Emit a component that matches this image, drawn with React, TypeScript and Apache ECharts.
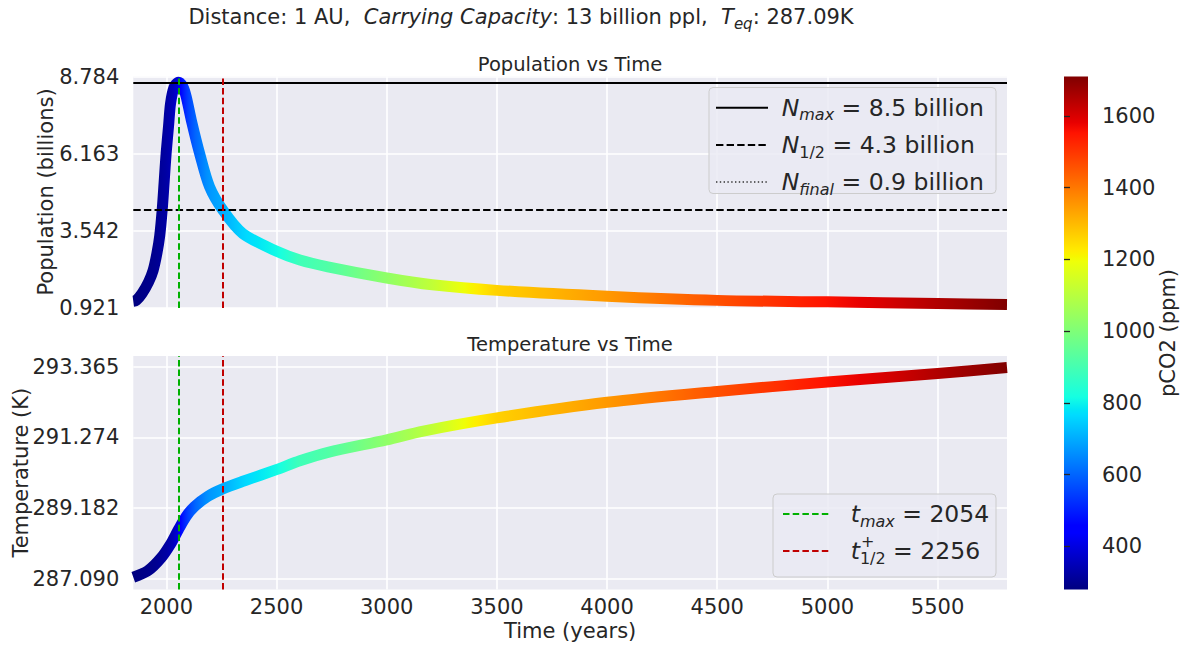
import React, { useEffect, useRef } from "react";
import * as echarts from "echarts";

// ---------- data ----------
const popYears = [1850, 1863, 1890, 1919, 1940, 1957, 1970, 1981, 1990, 1999, 2010, 2019, 2035, 2055, 2075, 2090, 2113, 2151, 2196, 2257, 2347, 2506, 2606, 2733, 3000, 3207, 3500, 4000, 4500, 5000, 5500, 5815];
const popValues = [1.15, 1.18, 1.42, 1.8, 2.2, 2.77, 3.38, 4.24, 5.2, 6.17, 7.1, 7.87, 8.42, 8.59, 8.44, 8.1, 7.31, 6.17, 5.04, 4.24, 3.45, 2.83, 2.55, 2.32, 1.94, 1.71, 1.52, 1.32, 1.18, 1.13, 1.07, 1.04];

const tempYears = [1850, 1916, 1976, 2022, 2055, 2090, 2128, 2188, 2256, 2355, 2499, 2606, 2734, 3000, 3166, 3500, 4000, 4500, 5000, 5500, 5815];
const tempValues = [287.14, 287.33, 287.71, 288.15, 288.55, 288.94, 289.23, 289.53, 289.75, 289.99, 290.32, 290.58, 290.83, 291.2, 291.46, 291.85, 292.31, 292.63, 292.91, 293.16, 293.34];

const co2Years = [1850, 1950, 2000, 2030, 2055, 2070, 2090, 2128, 2188, 2256, 2355, 2500, 2606, 2733, 3000, 3207, 3350, 3500, 4000, 4500, 5000, 5200, 5500, 5815];
const co2Values = [280, 300, 325, 350, 400, 470, 530, 595, 666, 700, 760, 810, 890, 920, 1030, 1115, 1195, 1265, 1350, 1460, 1555, 1590, 1650, 1710];

const popTicks = [0.921, 3.542, 6.163, 8.784];
const tempTicks = [287.09, 289.182, 291.274, 293.365];
const timeTicks = [2000, 2500, 3000, 3500, 4000, 4500, 5000, 5500];
const co2Ticks = [400, 600, 800, 1000, 1200, 1400, 1600];

const nMax = 8.57;
const nHalf = 4.27;
const nFinal = 0.921;
const tMaxYear = 2054;
const tHalfYear = 2256;

const timeMin = 1850;
const timeMax = 5815;
const co2Min = 280;
const co2Max = 1710;

// ---------- styling ----------
const FONT = "'DejaVu Sans', 'Noto Sans', sans-serif";
const TXT = "#262626";
const BG = "#EAEAF2";
const GREEN = "#00b000";
const RED = "#c00000";
const TICK_FS = 21;
const LABEL_FS = 21;

const G_LEFT = 133.3;
const G_WIDTH = 873.7;

// jet colormap
const JR = [[0, 0], [0.35, 0], [0.66, 1], [0.89, 1], [1, 0.5]];
const JG = [[0, 0], [0.125, 0], [0.375, 1], [0.64, 1], [0.91, 0], [1, 0]];
const JB = [[0, 0.5], [0.11, 1], [0.34, 1], [0.65, 0], [1, 0]];
function seg(k: number[][], s: number) {
  if (s <= k[0][0]) return k[0][1];
  for (let i = 1; i < k.length; i++) {
    if (s <= k[i][0]) {
      const f = (s - k[i - 1][0]) / (k[i][0] - k[i - 1][0]);
      return k[i - 1][1] + f * (k[i][1] - k[i - 1][1]);
    }
  }
  return k[k.length - 1][1];
}
function jet(s: number) {
  const c = (v: number) => Math.round(Math.max(0, Math.min(1, v)) * 255);
  return `rgb(${c(seg(JR, s))},${c(seg(JG, s))},${c(seg(JB, s))})`;
}
function co2At(t: number) {
  if (t <= co2Years[0]) return co2Values[0];
  for (let i = 1; i < co2Years.length; i++) {
    if (t <= co2Years[i]) {
      const f = (t - co2Years[i - 1]) / (co2Years[i] - co2Years[i - 1]);
      return co2Values[i - 1] + f * (co2Values[i] - co2Values[i - 1]);
    }
  }
  return co2Values[co2Values.length - 1];
}
function timeGradient() {
  const stops: { offset: number; color: string }[] = [];
  const n = 240;
  for (let i = 0; i <= n; i++) {
    const t = timeMin + ((timeMax - timeMin) * i) / n;
    const s = (co2At(t) - co2Min) / (co2Max - co2Min);
    stops.push({ offset: i / n, color: jet(s) });
  }
  return new echarts.graphic.LinearGradient(G_LEFT, 0, G_LEFT + G_WIDTH, 0, stops, true);
}
function barGradient() {
  const knots = [0, 0.11, 0.125, 0.34, 0.35, 0.375, 0.64, 0.65, 0.66, 0.89, 0.91, 1];
  return new echarts.graphic.LinearGradient(0, 1, 0, 0, knots.map((k) => ({ offset: k, color: jet(k) })));
}

const richBase = (size: number, lh: number) => ({
  n: { fontFamily: FONT, fontSize: size, lineHeight: lh, color: TXT },
  i: { fontFamily: FONT, fontSize: size, lineHeight: lh, color: TXT, fontStyle: "italic" },
  s: { fontFamily: FONT, fontSize: Math.round(size * 0.7), lineHeight: Math.round(size * 0.62), color: TXT, fontStyle: "italic", verticalAlign: "bottom" },
  sn: { fontFamily: FONT, fontSize: Math.round(size * 0.7), lineHeight: Math.round(size * 0.62), color: TXT, verticalAlign: "bottom" },
});

function richText(x: number, y: number, text: string, size: number, lh: number, align = "left") {
  return {
    type: "text",
    x,
    y,
    silent: true,
    style: {
      text,
      rich: richBase(size, lh),
      fontFamily: FONT,
      fontSize: size,
      fill: TXT,
      align,
      verticalAlign: "middle",
    },
  };
}
function plainText(x: number, y: number, text: string, size: number, align = "center", rotation = 0) {
  return {
    type: "text",
    x,
    y,
    rotation,
    silent: true,
    style: { text, fontFamily: FONT, fontSize: size, fill: TXT, align, verticalAlign: "middle" },
  };
}

function valueAxisCommon() {
  return {
    type: "value",
    axisLine: { show: false },
    splitLine: { show: true, lineStyle: { color: "#ffffff", width: 1.6 } },
    axisLabel: { color: TXT, fontFamily: FONT, fontSize: TICK_FS },
  };
}

export default function App() {
  const ref = useRef<HTMLDivElement>(null);
  useEffect(() => {
    if (!ref.current) return;
    const chart = echarts.init(ref.current, null, { renderer: "svg" });
    const grad = timeGradient();

    const vLines = [
      { xAxis: tMaxYear, lineStyle: { color: GREEN, width: 2, type: [6.5, 3.2] } },
      { xAxis: tHalfYear, lineStyle: { color: RED, width: 2, type: [6.5, 3.2] } },
    ];

    const gridCommon = { containLabel: false, outerBoundsMode: "none" };

    const option: any = {
      animation: false,
      backgroundColor: "#ffffff",
      textStyle: { fontFamily: FONT },
      grid: [
        { ...gridCommon, left: G_LEFT, top: 76.5, width: G_WIDTH, height: 231.5, show: true, backgroundColor: BG, borderWidth: 0 },
        { ...gridCommon, left: G_LEFT, top: 356, width: G_WIDTH, height: 233.5, show: true, backgroundColor: BG, borderWidth: 0 },
        { ...gridCommon, left: 1064, top: 76.5, width: 24, height: 513, show: false },
      ],
      xAxis: [
        {
          ...valueAxisCommon(),
          gridIndex: 0,
          min: timeMin,
          max: timeMax,
          axisTick: { show: false, customValues: timeTicks },
          axisLabel: { show: false, customValues: timeTicks },
        },
        {
          ...valueAxisCommon(),
          gridIndex: 1,
          min: timeMin,
          max: timeMax,
          axisTick: { show: false, customValues: timeTicks },
          axisLabel: { show: true, customValues: timeTicks, color: TXT, fontFamily: FONT, fontSize: TICK_FS, margin: 7, formatter: (v: number) => String(v) },
          name: "Time (years)",
          nameLocation: "middle",
          nameGap: 31,
          nameTextStyle: { color: TXT, fontFamily: FONT, fontSize: LABEL_FS },
        },
        { type: "value", gridIndex: 2, show: false, min: 0, max: 1 },
      ],
      yAxis: [
        {
          ...valueAxisCommon(),
          gridIndex: 0,
          min: 0.921,
          max: 8.784,
          axisTick: { show: false, customValues: popTicks },
          axisLabel: { customValues: popTicks, color: TXT, fontFamily: FONT, fontSize: TICK_FS, margin: 14, formatter: (v: number) => v.toFixed(3) },
        },
        {
          ...valueAxisCommon(),
          gridIndex: 1,
          min: 286.776,
          max: 293.679,
          axisTick: { show: false, customValues: tempTicks },
          axisLabel: { customValues: tempTicks, color: TXT, fontFamily: FONT, fontSize: TICK_FS, margin: 14, formatter: (v: number) => v.toFixed(3) },
        },
        {
          type: "value",
          gridIndex: 2,
          position: "right",
          min: co2Min,
          max: co2Max,
          axisLine: { show: false },
          splitLine: { show: false },
          axisTick: { show: true, inside: false, length: 6, customValues: co2Ticks, lineStyle: { color: TXT, width: 1.3 } },
          axisLabel: { customValues: co2Ticks, color: TXT, fontFamily: FONT, fontSize: TICK_FS, margin: 14, formatter: (v: number) => String(v) },
        },
      ],
      series: [
        {
          type: "line",
          xAxisIndex: 0,
          yAxisIndex: 0,
          data: popYears.map((t, i) => [t, popValues[i]]),
          showSymbol: false,
          smooth: 0.3,
          clip: true,
          silent: true,
          lineStyle: { width: 11, color: grad, cap: "butt", join: "round" },
          markLine: {
            silent: true,
            symbol: ["none", "none"],
            label: { show: false },
            z: 5,
            data: [
              { yAxis: nMax, lineStyle: { color: "#000000", width: 2, type: "solid" } },
              { yAxis: nHalf, lineStyle: { color: "#000000", width: 2.2, type: [7.4, 3.2] } },
              { yAxis: nFinal, lineStyle: { color: "#999999", width: 1.3, type: [1.4, 2.4] } },
              ...vLines,
            ],
          },
        },
        {
          type: "line",
          xAxisIndex: 1,
          yAxisIndex: 1,
          data: tempYears.map((t, i) => [t, tempValues[i]]),
          showSymbol: false,
          smooth: 0.3,
          clip: true,
          silent: true,
          lineStyle: { width: 11, color: grad, cap: "butt", join: "round" },
          markLine: {
            silent: true,
            symbol: ["none", "none"],
            label: { show: false },
            z: 5,
            data: vLines,
          },
        },
      ],
      graphic: [
        // colorbar
        { type: "rect", silent: true, shape: { x: 1064, y: 76.5, width: 24, height: 513 }, style: { fill: barGradient() } },
        // suptitle
        richText(521, 17, "{n|Distance: 1 AU,  }{i|Carrying Capacity}{n|: 13 billion ppl,  }{i|T}{s|eq}{n|: 287.09K}", 21, 28, "center"),
        plainText(570, 64, "Population vs Time", 19.5),
        plainText(570, 344, "Temperature vs Time", 19.5),
        // axis names
        plainText(46, 192, "Population (billions)", LABEL_FS, "center", Math.PI / 2),
        plainText(20.5, 472.7, "Temperature (K)", LABEL_FS, "center", Math.PI / 2),
        plainText(1168, 333, "pCO2 (ppm)", LABEL_FS, "center", Math.PI / 2),
        // top legend
        { type: "rect", silent: true, z: 10, shape: { x: 709, y: 87.5, width: 287, height: 106, r: 4 }, style: { fill: "rgba(234,234,242,0.8)", stroke: "#cccccc", lineWidth: 1 } },
        { type: "line", silent: true, z: 11, shape: { x1: 716, y1: 107.7, x2: 768, y2: 107.7 }, style: { stroke: "#000", lineWidth: 2 } },
        { type: "line", silent: true, z: 11, shape: { x1: 716, y1: 145, x2: 768, y2: 145 }, style: { stroke: "#000", lineWidth: 2.2, lineDash: [7.4, 3.2] } },
        { type: "line", silent: true, z: 11, shape: { x1: 716, y1: 182, x2: 768, y2: 182 }, style: { stroke: "#333", lineWidth: 1.3, lineDash: [1.4, 2.4] } },
        { ...richText(781.7, 107.7, "{i|N}{s|max}{n| = 8.5 billion}", 23.5, 30), z: 11 },
        { ...richText(781.7, 145, "{i|N}{sn|1/2}{n| = 4.3 billion}", 23.5, 30), z: 11 },
        { ...richText(781.7, 182, "{i|N}{s|final}{n| = 0.9 billion}", 23.5, 30), z: 11 },
        // bottom legend
        { type: "rect", silent: true, z: 10, shape: { x: 773, y: 494, width: 223, height: 83, r: 4 }, style: { fill: "rgba(234,234,242,0.8)", stroke: "#cccccc", lineWidth: 1 } },
        { type: "line", silent: true, z: 11, shape: { x1: 783, y1: 514, x2: 830, y2: 514 }, style: { stroke: GREEN, lineWidth: 2, lineDash: [6.5, 3.2] } },
        { type: "line", silent: true, z: 11, shape: { x1: 783, y1: 551, x2: 830, y2: 551 }, style: { stroke: RED, lineWidth: 2, lineDash: [6.5, 3.2] } },
        { ...richText(850.7, 514, "{i|t}{s|max}{n| = 2054}", 23.5, 30), z: 11 },
        { ...richText(850.7, 551, "{i|t}{sn|1/2}{n| = 2256}", 23.5, 30), z: 11 },
        { ...plainText(861, 541, "+", 16, "left"), z: 11 },
      ],
    };
    chart.setOption(option);
    return () => chart.dispose();
  }, []);
  return (
    <div
      ref={ref}
      style={{ position: "fixed", left: 0, top: 0, width: 1182, height: 649, background: "#fff" }}
    />
  );
}
